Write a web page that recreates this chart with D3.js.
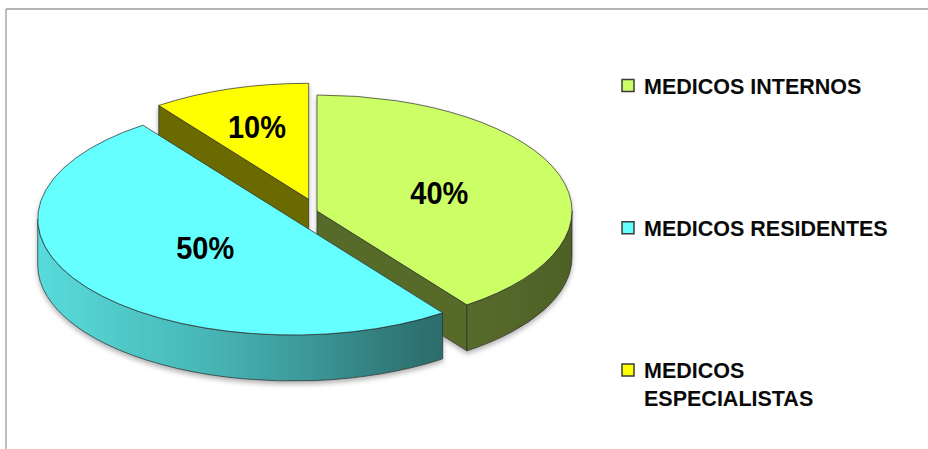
<!DOCTYPE html>
<html lang="es">
<head>
<meta charset="UTF-8">
<title>Medicos</title>
<script src="https://cdn.jsdelivr.net/npm/d3@7"></script>
<style>
    body { margin: 0; background: #ffffff; }
    text { font-family: "Liberation Sans", Arial, sans-serif; }
</style>
</head>
<body>
<svg id="mainsvg" width="928" height="449"></svg>
<script>
    // Data
    const categories = ['MEDICOS INTERNOS', 'MEDICOS RESIDENTES', 'MEDICOS ESPECIALISTAS'];
    const values = [40, 50, 10];

    // Style
    const colors = ['#ccff66', '#66ffff', '#ffff00'];
    const explode = [0, 30, 27];   // px, along the slice mid angle
    const wallShade = [[0, 0.86], [0.3, 0.72], [0.5, 0.6], [0.72, 0.44], [1, 0.38]];
    const cutShade = 0.42;

    const mainsvg = d3.select('#mainsvg');
    const width = +mainsvg.attr('width');
    const height = +mainsvg.attr('height');

    // pie geometry (projected ellipse)
    const cx = 317, cy = 211, rx = 255, ry = 116, depth = 46;
    const tilt = ry / rx;

    const shade = (c, f) => { const r = d3.rgb(c); return d3.rgb(r.r * f, r.g * f, r.b * f).formatHex(); };
    const rim = (v, a, z = 0) => [v[0] + rx * Math.sin(a), v[1] - ry * Math.cos(a) + z];

    // chart area border
    mainsvg.append('line').attr('x1', 6).attr('x2', width).attr('y1', 9).attr('y2', 9)
        .attr('stroke', '#b4b4b4').attr('stroke-width', 2);
    mainsvg.append('line').attr('x1', 6).attr('x2', 6).attr('y1', 9).attr('y2', height)
        .attr('stroke', '#a8a8a8').attr('stroke-width', 1.5);

    const defs = mainsvg.append('defs');
    const shadow = defs.append('filter').attr('id', 'shadow')
        .attr('x', '-10%').attr('y', '-10%').attr('width', '120%').attr('height', '130%');
    shadow.append('feDropShadow').attr('dx', 0).attr('dy', 3).attr('stdDeviation', 2.5)
        .attr('flood-color', '#000').attr('flood-opacity', 0.3);

    const pie = d3.pie().sort(null).value(d => d.value);
    const total = d3.sum(values);
    const fmt = d3.format('.0%');

    const slices = pie(values.map((v, i) => ({value: v, name: categories[i], color: colors[i], explode: explode[i]})));
    slices.forEach((d, i) => {
        const m = (d.startAngle + d.endAngle) / 2;
        const e = d.data.explode;
        d.index = i;
        d.mid = m;
        d.v = [cx + e * Math.sin(m), cy - e * Math.cos(m) * tilt];

        // wall gradient
        const g = defs.append('linearGradient').attr('id', 'wall' + i)
            .attr('gradientUnits', 'userSpaceOnUse')
            .attr('x1', cx - rx - 24).attr('x2', cx + rx).attr('y1', 0).attr('y2', 0);
        wallShade.forEach(s => g.append('stop').attr('offset', s[0]).attr('stop-color', shade(d.data.color, s[1])));
    });

    const topPath = d => {
        const p0 = rim(d.v, d.startAngle), p1 = rim(d.v, d.endAngle);
        const large = d.endAngle - d.startAngle > Math.PI ? 1 : 0;
        return `M${d.v}L${p0}A${rx},${ry} 0 ${large} 1 ${p1}Z`;
    };
    const wallPath = d => {
        const b0 = Math.max(d.startAngle, Math.PI / 2), b1 = Math.min(d.endAngle, 3 * Math.PI / 2);
        if (b1 <= b0) return null;
        const p0 = rim(d.v, b0), p1 = rim(d.v, b1), q1 = rim(d.v, b1, depth), q0 = rim(d.v, b0, depth);
        return `M${p0}A${rx},${ry} 0 0 1 ${p1}L${q1}A${rx},${ry} 0 0 0 ${q0}Z`;
    };
    const cutPath = (v, a) => {
        const p = rim(v, a), q = rim(v, a, depth);
        return `M${v}L${p}L${q}L${v[0]},${v[1] + depth}Z`;
    };

    const pieGroup = mainsvg.append('g').attr('filter', 'url(#shadow)');

    // back to front
    const order = slices.slice().sort((a, b) => a.v[1] - b.v[1]);
    order.forEach(d => {
        const g = pieGroup.append('g').attr('class', 'slice');
        const faceColor = shade(d.data.color, cutShade);
        // side cuts facing the viewer
        if (Math.sin(d.startAngle) < -1e-6) {
            g.append('path').attr('d', cutPath(d.v, d.startAngle))
                .attr('fill', faceColor).attr('stroke', '#2b2b2b').attr('stroke-width', 0.7);
        }
        if (Math.sin(d.endAngle) > 1e-6) {
            g.append('path').attr('d', cutPath(d.v, d.endAngle))
                .attr('fill', faceColor).attr('stroke', '#2b2b2b').attr('stroke-width', 0.7);
        }
        const w = wallPath(d);
        if (w) {
            g.append('path').attr('d', w)
                .attr('fill', `url(#wall${d.index})`).attr('stroke', '#2b2b2b').attr('stroke-width', 0.7);
        }
        g.append('path').attr('d', topPath(d))
            .attr('fill', d.data.color).attr('stroke', '#2b2b2b').attr('stroke-width', 0.7);
    });

    // percentage labels at the sector centroid
    const centroidK = d => { const a = (d.endAngle - d.startAngle) / 2; return (2 / 3) * Math.sin(a) / a; };
    mainsvg.append('g').selectAll('text').data(slices).join('text')
        .attr('x', d => d.v[0] + centroidK(d) * rx * Math.sin(d.mid))
        .attr('y', d => d.v[1] - centroidK(d) * ry * Math.cos(d.mid) + 11.5)
        .attr('text-anchor', 'middle')
        .attr('font-size', 32)
        .attr('font-weight', 'bold')
        .attr('fill', '#000')
        .attr('textLength', 58)
        .attr('lengthAdjust', 'spacingAndGlyphs')
        .text(d => fmt(d.data.value / total));

    // Legend
    const legendY = d3.scalePoint().domain(categories).range([85.5, 370]);
    const legend = mainsvg.append('g').attr('class', 'legend');
    const items = legend.selectAll('g').data(slices).join('g')
        .attr('transform', d => `translate(622, ${legendY(d.data.name)})`);
    items.append('rect')
        .attr('x', 0).attr('y', -6).attr('width', 12).attr('height', 12)
        .attr('fill', d => d.data.color)
        .attr('stroke', '#3a3a3a').attr('stroke-width', 1.5);
    items.append('text')
        .attr('x', 22).attr('y', 8)
        .attr('font-size', 21.5).attr('font-weight', 'bold').attr('fill', '#0a0a0a')
        .each(function (d) {
            const t = d3.select(this);
            const words = d.data.name.split(' ');
            let line = [], tspan = t.append('tspan').attr('x', 22).attr('dy', 0);
            words.forEach(word => {
                line.push(word);
                tspan.text(line.join(' '));
                if (tspan.node().getComputedTextLength() > 262 && line.length > 1) {
                    line.pop();
                    tspan.text(line.join(' '));
                    line = [word];
                    tspan = t.append('tspan').attr('x', 22).attr('dy', 28).text(word);
                }
            });
        });
</script>
</body>
</html>
